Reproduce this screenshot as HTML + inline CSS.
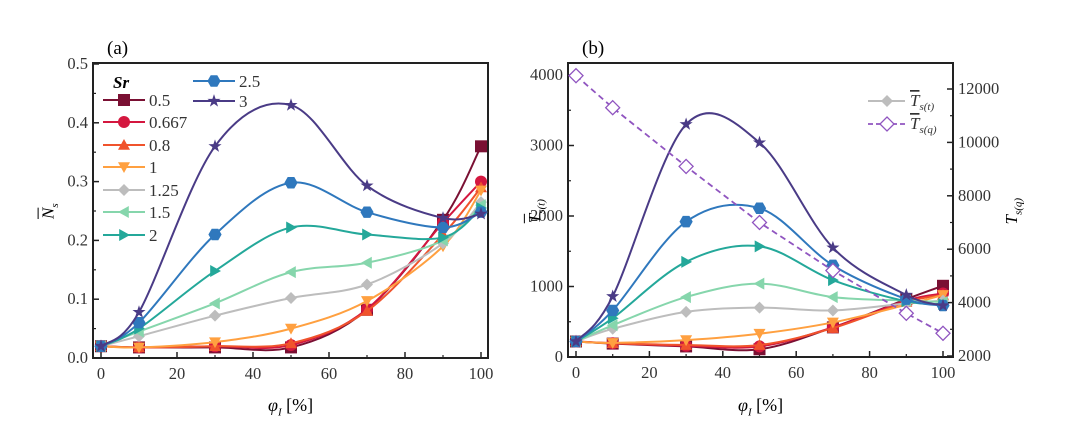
<!DOCTYPE html>
<html><head><meta charset="utf-8"><style>
body{margin:0;background:#fff;width:1080px;height:442px;overflow:hidden}
svg{font-family:"Liberation Serif",serif}
</style></head><body>
<svg id="c" width="1080" height="442"></svg>
<script>
const xCats=[0,10,30,50,70,90,100];
const srLabels=['0.5','0.667','0.8','1','1.25','1.5','2','2.5','3'];
const colors=['#7a1033','#d4173f','#f0532c','#ffa040','#bdbdbd','#86d6ac','#24a89a','#2f78bd','#4a3b86'];
const markers=['square','circle','tri-up','tri-down','diamond','tri-left','tri-right','hex','star'];
const nsA=[.02,.018,.018,.018,.082,.235,.36];
const nsB=[.02,.018,.02,.022,.083,.23,.30];
const nsC=[.02,.018,.02,.025,.08,.21,.29];
const nsD=[.02,.018,.027,.05,.097,.19,.285];
const nsE=[.02,.037,.072,.102,.125,.195,.265];
const nsF=[.02,.045,.093,.146,.162,.2,.26];
const nsG=[.02,.05,.148,.222,.21,.205,.255];
const nsH=[.02,.06,.21,.298,.248,.222,.248];
const nsI=[.02,.078,.36,.43,.293,.238,.245];
const tsA=[220,190,150,110,420,820,1010];
const tsB=[220,195,160,150,420,800,900];
const tsC=[220,195,170,170,410,780,880];
const tsD=[220,200,240,330,490,740,880];
const tsE=[220,400,640,700,660,760,800];
const tsF=[220,450,850,1040,850,800,780];
const tsG=[220,550,1350,1570,1090,790,750];
const tsH=[220,660,1920,2110,1300,820,730];
const tsI=[220,860,3300,3040,1550,880,730];
const tsQ=[12500,11300,9100,7000,5200,3600,2850];
const xTicks=[0,20,40,60,80,100];
const nsTicks=[0,0.1,0.2,0.3,0.4,0.5];
const tTicks=[0,1000,2000,3000,4000];
const qTicks=[2000,4000,6000,8000,10000,12000];
const nsSeries=[nsA,nsB,nsC,nsD,nsE,nsF,nsG,nsH,nsI];
const tsSeries=[tsA,tsB,tsC,tsD,tsE,tsF,tsG,tsH,tsI];

const svg=document.getElementById('c');
const NS='http://www.w3.org/2000/svg';
function el(t,a,p){const e=document.createElementNS(NS,t);for(const k in a)e.setAttribute(k,a[k]);(p||svg).appendChild(e);return e;}
function lin(d0,d1,r0,r1){return v=>r0+(v-d0)/(d1-d0)*(r1-r0);}
function spline(pts){let d='M'+pts[0][0]+','+pts[0][1];for(let i=0;i<pts.length-1;i++){const p0=pts[Math.max(0,i-1)],p1=pts[i],p2=pts[i+1],p3=pts[Math.min(pts.length-1,i+2)];const t=6;d+=' C'+(p1[0]+(p2[0]-p0[0])/t)+','+(p1[1]+(p2[1]-p0[1])/t)+' '+(p2[0]-(p3[0]-p1[0])/t)+','+(p2[1]-(p3[1]-p1[1])/t)+' '+p2[0]+','+p2[1];}return d;}
function marker(g,type,x,y,c,s){s=s||6;let e;
 if(type==='square')e=el('rect',{x:x-s,y:y-s,width:2*s,height:2*s,fill:c},g);
 else if(type==='circle')e=el('circle',{cx:x,cy:y,r:s,fill:c},g);
 else if(type==='hex'){let p=[];for(let i=0;i<6;i++){const a=Math.PI/3*i;p.push((x+s*1.1*Math.cos(a))+','+(y+s*1.1*Math.sin(a)));}e=el('polygon',{points:p.join(' '),fill:c},g);}
 else if(type==='diamond')e=el('polygon',{points:`${x},${y-s} ${x+s},${y} ${x},${y+s} ${x-s},${y}`,fill:c},g);
 else if(type==='tri-up')e=el('polygon',{points:`${x},${y-s} ${x+s},${y+s*.8} ${x-s},${y+s*.8}`,fill:c},g);
 else if(type==='tri-down')e=el('polygon',{points:`${x},${y+s} ${x+s},${y-s*.8} ${x-s},${y-s*.8}`,fill:c},g);
 else if(type==='tri-left')e=el('polygon',{points:`${x-s},${y} ${x+s*.8},${y-s} ${x+s*.8},${y+s}`,fill:c},g);
 else if(type==='tri-right')e=el('polygon',{points:`${x+s},${y} ${x-s*.8},${y-s} ${x-s*.8},${y+s}`,fill:c},g);
 else {let p=[];for(let i=0;i<10;i++){const a=-Math.PI/2+Math.PI/5*i,r=i%2?s*.45:s*1.15;p.push((x+r*Math.cos(a))+','+(y+r*Math.sin(a)));}e=el('polygon',{points:p.join(' '),fill:c},g);}
 
 
 return e;}
function frame(L,R,T,B,sx,sy,yt,fmt,name,minorY){
 const g=el('g',{});
 
 
 el('rect',{x:L,y:T,width:R-L,height:B-T,fill:'none',stroke:'#222','stroke-width':2},g);
 xTicks.forEach((v,i)=>{const x=sx(v);el('line',{x1:x,x2:x,y1:B,y2:B-6,stroke:'#222','stroke-width':1.5},g);
  if(i<xTicks.length-1)el('line',{x1:sx(v+10),x2:sx(v+10),y1:B,y2:B-3,stroke:'#222','stroke-width':1.2},g);
  const t=el('text',{x:x,y:B+21,'text-anchor':'middle','font-size':16.5,fill:'#333'},g);t.textContent=v;
  
  });
 yt.forEach((v,i)=>{const y=sy(v);el('line',{x1:L,x2:L+6,y1:y,y2:y,stroke:'#222','stroke-width':1.5},g);
  if(i<yt.length-1)el('line',{x1:L,x2:L+3,y1:sy(v+minorY),y2:sy(v+minorY),stroke:'#222','stroke-width':1.2},g);
  const t=el('text',{x:L-5,y:y+5,'text-anchor':'end','font-size':16.5,fill:'#333'},g);t.textContent=fmt(v);
  
  });
 return g;}
// Panel a
const ax=lin(0,100,101,481), ay=lin(0,0.5,358,64);
frame(93,488,63,358,ax,ay,nsTicks,v=>v.toFixed(1),'panel-a',0.05);
nsSeries.forEach((s,k)=>{const g=el('g',{});
 
 
 const pts=s.map((v,i)=>[ax(xCats[i]),ay(v)]);
 el('path',{d:spline(pts),fill:'none',stroke:colors[k],'stroke-width':2},g);
 pts.forEach(p=>marker(g,markers[k],p[0],p[1],colors[k],6));});
// Panel b
const bx=lin(0,100,576,943), by=lin(0,4000,357,75), bq=lin(2000,12000,356,89);
const gb=frame(568,953,63,357,bx,by,tTicks,v=>v,'panel-b',500);
qTicks.forEach((v,i)=>{const y=bq(v);el('line',{x1:953,x2:947,y1:y,y2:y,stroke:'#222','stroke-width':1.5},gb);
 if(i<qTicks.length-1)el('line',{x1:953,x2:950,y1:bq(v+1000),y2:bq(v+1000),stroke:'#222','stroke-width':1.2},gb);
 const t=el('text',{x:958,y:y+5,'font-size':16.5,fill:'#333'},gb);t.textContent=v;
 
 });
tsSeries.forEach((s,k)=>{const g=el('g',{});
 
 
 const pts=s.map((v,i)=>[bx(xCats[i]),by(v)]);
 el('path',{d:spline(pts),fill:'none',stroke:colors[k],'stroke-width':2},g);
 pts.forEach(p=>marker(g,markers[k],p[0],p[1],colors[k],6));});
(function(){const g=el('g',{});
 
 
 const pts=tsQ.map((v,i)=>[bx(xCats[i]),bq(v)]);
 el('polyline',{points:pts.map(p=>p.join(',')).join(' '),fill:'none',stroke:'#9055c0','stroke-width':1.8,'stroke-dasharray':'6,4'},g);
 pts.forEach(p=>{const m=el('polygon',{points:`${p[0]},${p[1]-7} ${p[0]+7},${p[1]} ${p[0]},${p[1]+7} ${p[0]-7},${p[1]}`,fill:'#fff',stroke:'#9055c0','stroke-width':1.3},g);
  
  });})();
</script>
<div style="position:absolute;left:0;top:0;width:1080px;height:442px;font-family:'Liberation Serif',serif;pointer-events:none">
 <div style="position:absolute;left:107px;top:38px;font-size:19px">(a)</div>
 <div style="position:absolute;left:582px;top:38px;font-size:19px">(b)</div>
 <div style="position:absolute;left:42px;top:200px;font-size:17px;transform:rotate(-90deg);font-style:italic"><span style="text-decoration:overline">N</span><sub style="font-size:11px">s</sub></div>
 <div style="position:absolute;left:524px;top:200px;font-size:17px;transform:rotate(-90deg);font-style:italic"><span style="text-decoration:overline">T</span><sub style="font-size:11px">s(t)</sub></div>
 <div style="position:absolute;left:1000px;top:200px;font-size:17px;transform:rotate(-90deg);font-style:italic">T<sub style="font-size:11px">s(q)</sub></div>
 <div style="position:absolute;left:268px;top:395px;font-size:18px"><i>φ<sub style="font-size:11px">I</sub></i> [%]</div>
 <div style="position:absolute;left:738px;top:395px;font-size:18px"><i>φ<sub style="font-size:11px">I</sub></i> [%]</div>
</div>
<script>
(function(){
 const lg=el('g',{});
 
 
 const t=el('text',{x:113,y:88,'font-size':17,'font-weight':'bold','font-style':'italic'},lg);t.textContent='Sr';
 const pos=[[103,100],[103,122],[103,145],[103,167],[103,190],[103,212],[103,235],[193,81],[193,101]];
 pos.forEach((p,k)=>{const g=el('g',{},lg);
  
  
  el('line',{x1:p[0],x2:p[0]+42,y1:p[1],y2:p[1],stroke:colors[k],'stroke-width':2},g);
  marker(g,markers[k],p[0]+21,p[1],colors[k],6);
  const tx=el('text',{x:p[0]+46,y:p[1]+6,'font-size':17,fill:'#333'},g);tx.textContent=srLabels[k];});
 const lb=el('g',{});
 
 
 el('line',{x1:868,x2:905,y1:101,y2:101,stroke:'#bdbdbd','stroke-width':2},lb);
 marker(lb,'diamond',887,101,'#bdbdbd',6);
 el('line',{x1:868,x2:905,y1:124,y2:124,stroke:'#9055c0','stroke-width':1.8,'stroke-dasharray':'5,3'},lb);
 el('polygon',{points:'887,117 894,124 887,131 880,124',fill:'#fff',stroke:'#9055c0','stroke-width':1.3},lb);
 const a=el('text',{x:910,y:106,'font-size':17,'font-style':'italic',fill:'#333'},lb);a.innerHTML='<tspan text-decoration="overline">T</tspan><tspan font-size="11" dy="4">s(t)</tspan>';
 const b=el('text',{x:910,y:129,'font-size':17,'font-style':'italic',fill:'#333'},lb);b.innerHTML='<tspan text-decoration="overline">T</tspan><tspan font-size="11" dy="4">s(q)</tspan>';
})();
</script>
</body></html>
